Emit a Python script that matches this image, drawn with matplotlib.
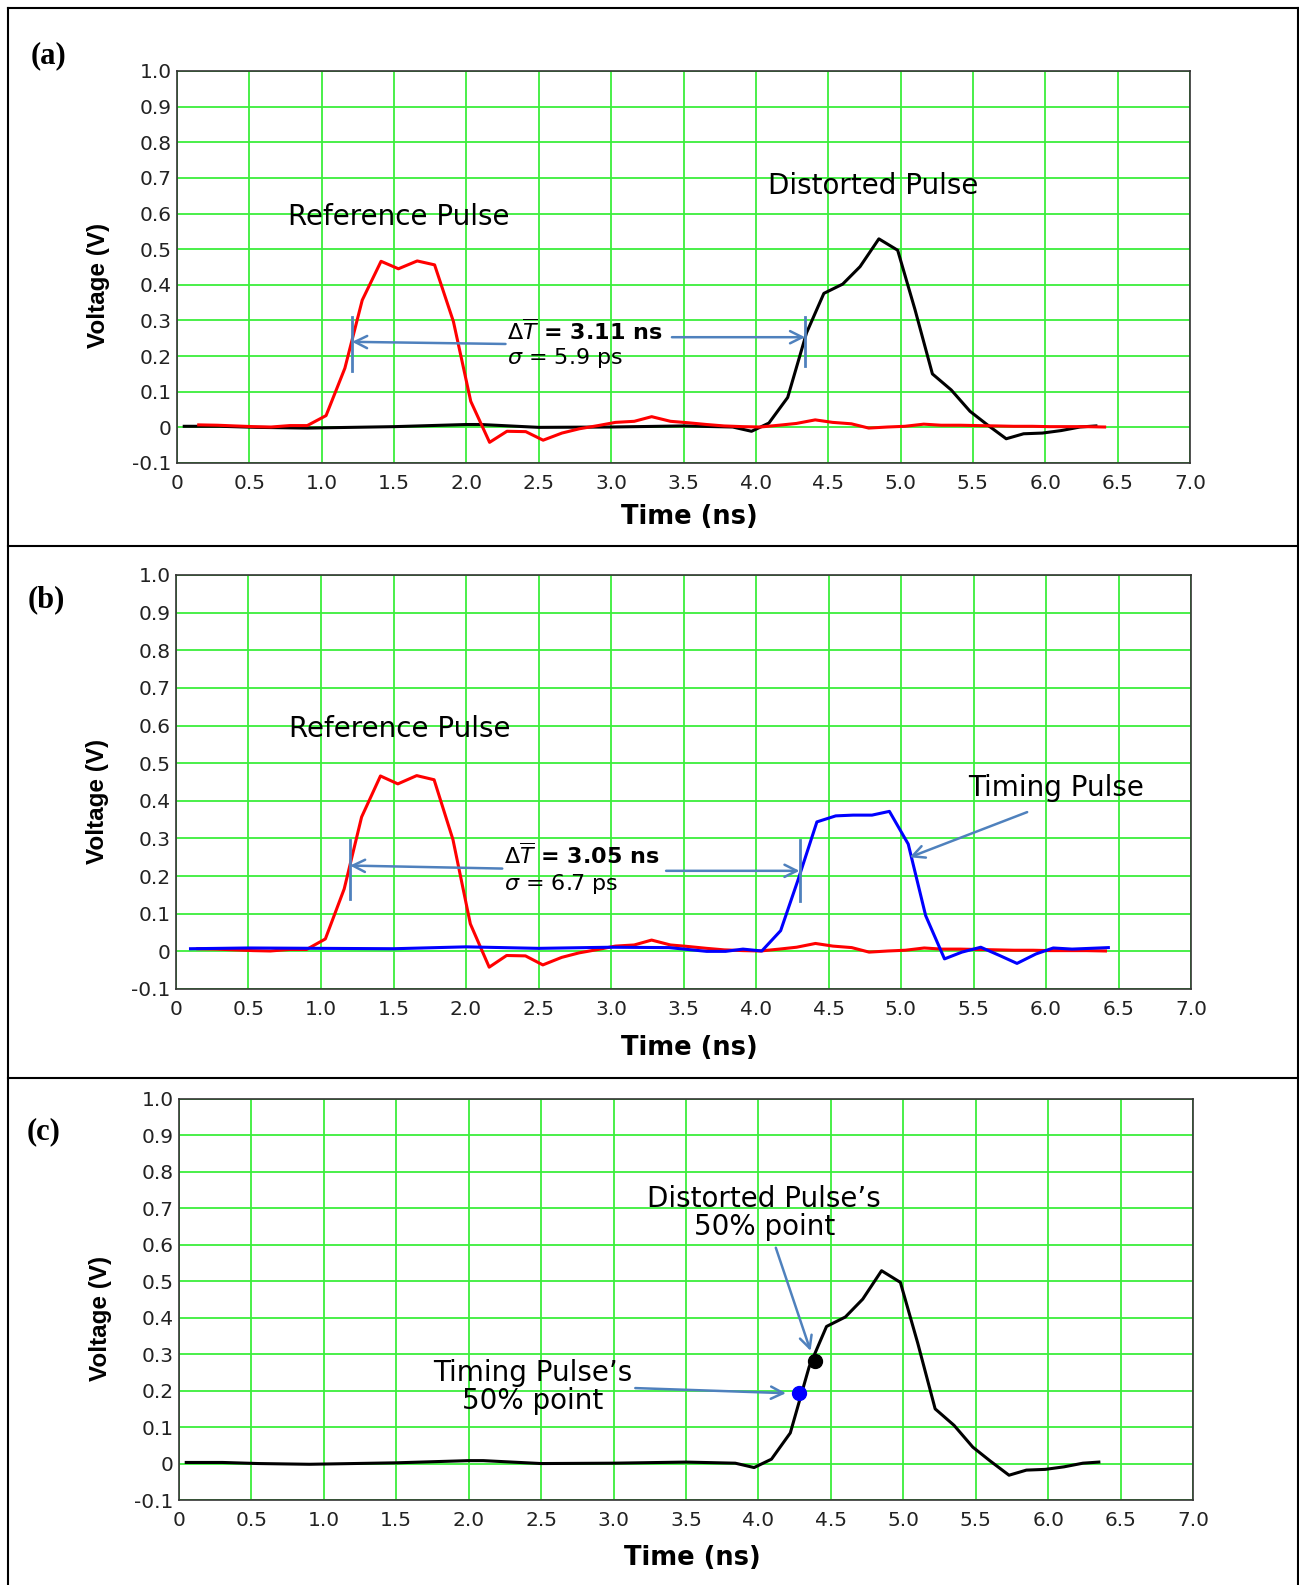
import matplotlib
matplotlib.use("Agg")
import matplotlib.pyplot as plt
from matplotlib.lines import Line2D

# reference pulse (red)
ref_t = [0.15, 0.28, 0.40, 0.53, 0.65, 0.78, 0.90, 1.03, 1.16, 1.28, 1.41, 1.53,
         1.66, 1.78, 1.91, 2.03, 2.16, 2.28, 2.41, 2.53, 2.66, 2.78, 2.91, 3.03,
         3.16, 3.28, 3.41, 3.53, 3.66, 3.78, 3.91, 4.03, 4.16, 4.28, 4.41, 4.53,
         4.66, 4.78, 4.91, 5.03, 5.16, 5.28, 5.41, 5.53, 5.66, 5.78, 5.91, 6.03,
         6.16, 6.28, 6.41]
ref_v = [0.007, 0.006, 0.004, 0.002, 0.001, 0.005, 0.005, 0.033, 0.166, 0.357, 0.466, 0.445,
         0.467, 0.456, 0.297, 0.073, -0.042, -0.011, -0.012, -0.036, -0.016, -0.004, 0.005, 0.014,
         0.017, 0.030, 0.017, 0.013, 0.008, 0.004, 0.002, 0.001, 0.006, 0.011, 0.021, 0.014,
         0.010, -0.002, 0.001, 0.003, 0.009, 0.006, 0.006, 0.005, 0.004, 0.003, 0.003, 0.002,
         0.002, 0.002, 0.001]

# distorted pulse (black)
dist_t = [0.05, 0.30, 0.55, 0.90, 1.50, 2.00, 2.10, 2.50, 3.00, 3.50, 3.84, 3.97,
          4.09, 4.22, 4.35, 4.47, 4.60, 4.72, 4.85, 4.98, 5.10, 5.22, 5.35, 5.48,
          5.60, 5.73, 5.85, 5.98, 6.11, 6.24, 6.35]
dist_v = [0.003, 0.003, 0.000, -0.002, 0.002, 0.008, 0.008, 0.000, 0.001, 0.004, 0.001, -0.011,
          0.012, 0.084, 0.265, 0.376, 0.402, 0.451, 0.529, 0.497, 0.330, 0.150, 0.105, 0.045,
          0.007, -0.032, -0.018, -0.016, -0.009, 0.001, 0.004]

# timing pulse (blue)
tim_t = [0.10, 0.50, 1.00, 1.50, 2.00, 2.50, 3.00, 3.40, 3.66, 3.79, 3.91, 4.04,
         4.17, 4.29, 4.42, 4.55, 4.67, 4.80, 4.92, 5.05, 5.17, 5.30, 5.42, 5.55,
         5.68, 5.80, 5.93, 6.05, 6.18, 6.43]
tim_v = [0.007, 0.009, 0.008, 0.007, 0.012, 0.008, 0.011, 0.010, 0.000, 0.000, 0.006, 0.001,
         0.055, 0.190, 0.344, 0.360, 0.362, 0.362, 0.372, 0.285, 0.095, -0.020, -0.002, 0.011,
         -0.011, -0.032, -0.007, 0.009, 0.006, 0.010]

x_ticks = [0, 0.5, 1.0, 1.5, 2.0, 2.5, 3.0, 3.5, 4.0, 4.5, 5.0, 5.5, 6.0, 6.5, 7.0]
x_labels = ["0", "0.5", "1.0", "1.5", "2.0", "2.5", "3.0", "3.5", "4.0", "4.5",
            "5.0", "5.5", "6.0", "6.5", "7.0"]
y_ticks = [-0.1, 0, 0.1, 0.2, 0.3, 0.4, 0.5, 0.6, 0.7, 0.8, 0.9, 1.0]
y_labels = ["-0.1", "0", "0.1", "0.2", "0.3", "0.4", "0.5", "0.6", "0.7", "0.8", "0.9", "1.0"]

GRID = "#3cee3c"
ARROW = "#4f81bd"
W, H = 1299, 1585

fig = plt.figure(figsize=(W / 100, H / 100), dpi=100)


def px(x, y):
    return x / W, 1 - y / H


def make_axes(left, top, right, bottom, ylab_y, xlab_y):
    ax = fig.add_axes([left / W, 1 - bottom / H, (right - left) / W, (bottom - top) / H])
    ax.set_xlim(0, 7.0)
    ax.set_ylim(-0.1, 1.0)
    ax.set_xticks(x_ticks, x_labels)
    ax.set_yticks(y_ticks, y_labels)
    ax.tick_params(length=0, labelsize=14.5, colors="#222222")
    ax.tick_params(axis="x", pad=8)
    ax.tick_params(axis="y", pad=4)
    ax.grid(True, color=GRID, lw=1.3)
    ax.set_axisbelow(True)
    for s in ax.spines.values():
        s.set_color("#333333")
        s.set_linewidth(1.2)
    ax.set_ylabel("Voltage (V)", fontsize=17.5, fontweight="bold",
                  family=["Liberation Sans Narrow", "Liberation Sans"])
    ax.yaxis.set_label_coords(-0.066, ylab_y)
    ax.set_xlabel("Time (ns)", fontsize=18.5, fontweight="bold")
    ax.xaxis.set_label_coords(0.506, xlab_y)
    return ax


def arrow(ax, start, end):
    ax.annotate("", xy=end, xytext=start,
                arrowprops=dict(arrowstyle="->", color=ARROW, lw=1.8, mutation_scale=22,
                                shrinkA=0, shrinkB=0))


# ---- (a)
ax1 = make_axes(177, 71, 1190, 463, 0.454, -0.105)
ax1.plot(dist_t, dist_v, color="black", lw=2.2)
ax1.plot(ref_t, ref_v, color="red", lw=2.2)
ax1.text(1.53, 0.59, "Reference Pulse", fontsize=20, ha="center", va="center")
ax1.text(4.81, 0.677, "Distorted Pulse", fontsize=20, ha="center", va="center")
ax1.plot([1.21, 1.21], [0.159, 0.311], color=ARROW, lw=2)
ax1.plot([4.34, 4.34], [0.171, 0.309], color=ARROW, lw=2)
arrow(ax1, (2.27, 0.234), (1.21, 0.240))
arrow(ax1, (3.42, 0.253), (4.34, 0.253))
ax1.text(2.28, 0.27, r"$\Delta\overline{T}$ = 3.11 ns", fontsize=16, fontweight="bold",
         va="center", ha="left")
ax1.text(2.28, 0.195, r"$\sigma$ = 5.9 ps", fontsize=16, va="center", ha="left")

# ---- (b)
ax2 = make_axes(176, 575, 1191, 989, 0.452, -0.11)
ax2.plot(ref_t, ref_v, color="red", lw=2.2)
ax2.plot(tim_t, tim_v, color="blue", lw=2.2)
ax2.text(1.54, 0.59, "Reference Pulse", fontsize=20, ha="center", va="center")
ax2.text(6.07, 0.434, "Timing Pulse", fontsize=20, ha="center", va="center")
arrow(ax2, (5.87, 0.370), (5.06, 0.250))
ax2.plot([1.20, 1.20], [0.14, 0.295], color=ARROW, lw=2)
ax2.plot([4.30, 4.30], [0.134, 0.295], color=ARROW, lw=2)
arrow(ax2, (2.25, 0.22), (1.20, 0.228))
arrow(ax2, (3.38, 0.214), (4.30, 0.214))
ax2.text(2.26, 0.255, r"$\Delta\overline{T}$ = 3.05 ns", fontsize=16, fontweight="bold",
         va="center", ha="left")
ax2.text(2.26, 0.18, r"$\sigma$ = 6.7 ps", fontsize=16, va="center", ha="left")

# ---- (c)
ax3 = make_axes(179, 1099, 1193, 1500, 0.452, -0.112)
ax3.plot(dist_t, dist_v, color="black", lw=2.2)
ax3.plot([4.39], [0.28], "o", color="black", ms=10, zorder=5)
ax3.plot([4.28], [0.193], "o", color="blue", ms=10, zorder=5)
ax3.text(4.04, 0.686, "Distorted Pulse\u2019s\n50% point", fontsize=20, ha="center",
         va="center", linespacing=1.0)
ax3.text(2.44, 0.21, "Timing Pulse\u2019s\n50% point", fontsize=20, ha="center",
         va="center", linespacing=1.0)
arrow(ax3, (4.12, 0.592), (4.36, 0.309))
arrow(ax3, (3.15, 0.207), (4.19, 0.193))

# panel letters
for lab, (x, y) in zip(["(a)", "(b)", "(c)"], [(49, 56), (46, 600), (44, 1132)]):
    fx, fy = px(x, y)
    fig.text(fx, fy, lab, fontsize=22, fontweight="bold", family="Liberation Serif",
             ha="center", va="center")

# frame and separators
for (x0, y0, x1, y1) in [(8, 8, 1299, 8), (8, 8, 8, 1585), (8, 546, 1299, 546),
                         (8, 1078, 1299, 1078), (1298, 8, 1298, 1585)]:
    a0, b0 = px(x0, y0)
    a1, b1 = px(x1, y1)
    fig.add_artist(Line2D([a0, a1], [b0, b1], color="black", lw=1.5))

fig.savefig("out.png", dpi=100)
